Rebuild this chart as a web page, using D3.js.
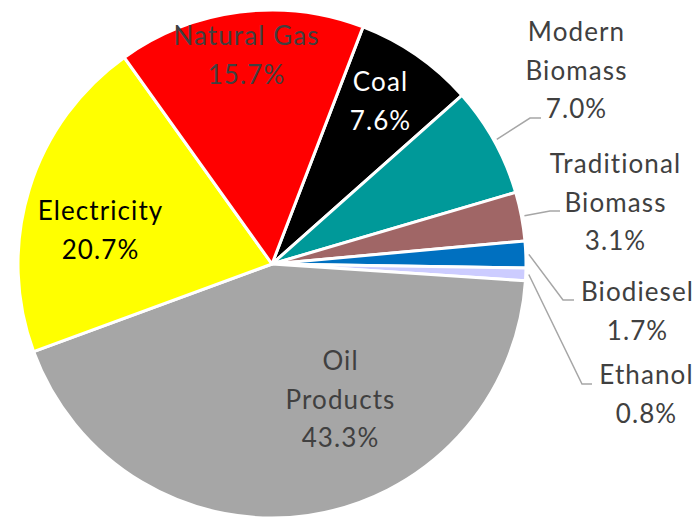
<!DOCTYPE html>
<html>
<head>
<meta charset="utf-8">
<script src="https://cdn.jsdelivr.net/npm/d3@7"></script>
<style>
  html, body { margin: 0; padding: 0; background: #fff; }
  #pie-chart { width: 698px; height: 517px; }
</style>
</head>
<body>
<div id="pie-chart"></div>
<script>
// Data (order clockwise, starting with Coal)
const categories = ["Coal", "Modern Biomass", "Traditional Biomass", "Biodiesel", "Ethanol", "Oil Products", "Electricity", "Natural Gas"];
const shares = [7.6, 7.0, 3.1, 1.7, 0.8, 43.3, 20.7, 15.7];
const labelLines = [["Coal"], ["Modern", "Biomass"], ["Traditional", "Biomass"], ["Biodiesel"], ["Ethanol"], ["Oil", "Products"], ["Electricity"], ["Natural Gas"]];

// Styling
const colors = ["#000000", "#009999", "#A06666", "#0070C0", "#CCCCFF", "#A6A6A6", "#FFFF00", "#FF0000"];
const textColors = ["#FFFFFF", "#404040", "#404040", "#404040", "#404040", "#404040", "#000000", "#404040"];
// label layout: text center x, first baseline y
const labelAt = [[380, 91], [576, 41], [615, 173], [637, 301], [646, 384], [340, 370], [100, 220], [246, 45]];
// leader elbow / end points (only outside labels)
const leaderAt = [null, [[530, 118], [541, 118]], [[550, 211], [560, 211]], [[563, 300], [574, 300]], [[582, 384], [592, 384]], null, null, null];

const width = 698, height = 517;
const cx = 272, cy = 264, radius = 254;
const lineHeight = 38.7;

const svg = d3.select("#pie-chart").append("svg")
    .attr("width", width)
    .attr("height", height);

const g = svg.append("g")
    .attr("transform", `translate(${cx},${cy})`);

const startAngle = 21 * Math.PI / 180;
const pie = d3.pie()
    .sort(null)
    .value(d => d)
    .startAngle(startAngle)
    .endAngle(startAngle + 2 * Math.PI);

const arcs = pie(shares);

const arc = d3.arc()
    .innerRadius(0)
    .outerRadius(radius);

g.selectAll("path.slice")
    .data(arcs)
    .join("path")
    .attr("class", "slice")
    .attr("d", arc)
    .attr("fill", (d, i) => colors[i])
    .attr("stroke", "#fff")
    .attr("stroke-width", 3)
    .attr("stroke-linejoin", "round");

// Leader lines
const outerArc = d3.arc().innerRadius(radius + 3).outerRadius(radius + 3);
arcs.forEach((d, i) => {
    if (!leaderAt[i]) return;
    const [sx, sy] = outerArc.centroid(d);
    const pts = [[sx + cx, sy + cy]].concat(leaderAt[i]);
    svg.append("path")
        .attr("d", d3.line()(pts))
        .attr("fill", "none")
        .attr("stroke", "#A6A6A6")
        .attr("stroke-width", 1.5);
});

// Labels
const fmt = d3.format(".1f");
arcs.forEach((d, i) => {
    const lines = labelLines[i].concat([fmt(shares[i]) + "%"]);
    const t = svg.append("text")
        .attr("x", labelAt[i][0])
        .attr("y", labelAt[i][1])
        .attr("text-anchor", "middle")
        .attr("font-family", "Lato, 'Open Sans', sans-serif")
        .attr("font-size", "26px")
        .attr("letter-spacing", "1.1px")
        .attr("fill", textColors[i]);
    lines.forEach((s, k) => {
        t.append("tspan")
            .attr("x", labelAt[i][0] + 0.5)
            .attr("y", labelAt[i][1] + k * lineHeight)
            .text(s);
    });
});
</script>
</body>
</html>
